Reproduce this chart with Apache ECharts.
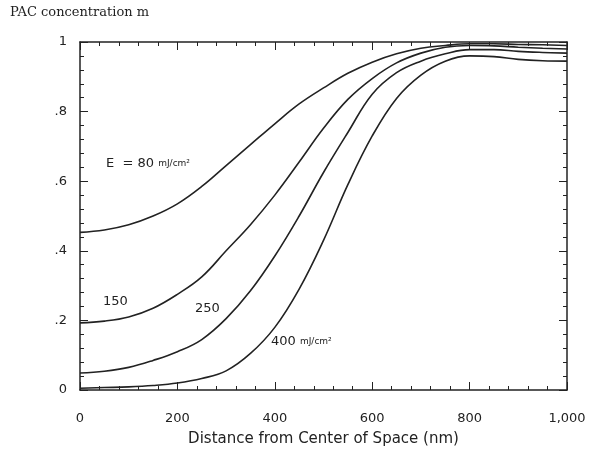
<!DOCTYPE html>
<html>
<head>
<meta charset="utf-8">
<script src="https://cdn.jsdelivr.net/npm/echarts@6/dist/echarts.min.js"></script>
<style>
  html, body { margin: 0; padding: 0; background: #fff; }
  #chart { width: 592px; height: 454px; }
</style>
</head>
<body>
<div id="chart"></div>
<script>
  // distance from center of space (nm)
  var distance = [0, 50, 100, 150, 200, 250, 300, 350, 400, 450, 500,
    550, 600, 650, 700, 750, 800, 850, 900, 950, 1000];
  // PAC concentration m for each exposure dose
  var e80 = [0.453, 0.46, 0.475, 0.5, 0.535, 0.585, 0.645, 0.705, 0.765, 0.822, 0.868,
    0.91, 0.942, 0.966, 0.982, 0.99, 0.995, 0.995, 0.993, 0.992, 0.99];
  var e150 = [0.193, 0.198, 0.21, 0.235, 0.275, 0.325, 0.4, 0.475, 0.56, 0.655, 0.752,
    0.835, 0.895, 0.94, 0.968, 0.985, 0.99, 0.989, 0.985, 0.982, 0.98];
  var e250 = [0.049, 0.054, 0.065, 0.085, 0.11, 0.145, 0.205, 0.285, 0.385, 0.5, 0.625,
    0.74, 0.85, 0.912, 0.945, 0.966, 0.978, 0.978, 0.973, 0.97, 0.968];
  var e400 = [0.005, 0.007, 0.009, 0.013, 0.02, 0.033, 0.055, 0.105, 0.18, 0.29, 0.43,
    0.59, 0.73, 0.838, 0.905, 0.945, 0.96, 0.958, 0.95, 0.946, 0.945];

  function pairs(ys) {
    var out = [];
    for (var i = 0; i < distance.length; i++) {
      out.push([distance[i], ys[i]]);
    }
    return out;
  }

  var ink = '#222';
  var labelFont = 'DejaVu Sans';

  function curve(name, ys) {
    return {
      name: name,
      type: 'line',
      data: pairs(ys),
      smooth: 0.4,
      symbol: 'none',
      lineStyle: { color: ink, width: 1.6 },
      xAxisIndex: 0,
      yAxisIndex: 0
    };
  }

  var frameAxis = {
    axisLine: { show: true, onZero: false, lineStyle: { color: ink, width: 1.5 } },
    axisTick: { show: true, inside: true, length: 8, lineStyle: { color: ink, width: 1 } },
    minorTick: { show: true, splitNumber: 5, length: 4, lineStyle: { color: ink, width: 1 } },
    splitLine: { show: false }
  };

  var chart = echarts.init(document.getElementById('chart'));
  chart.setOption({
    backgroundColor: '#fff',
    animation: false,
    grid: { left: 80, right: 25, top: 42, bottom: 64 },
    xAxis: [
      Object.assign({
        type: 'value', min: 0, max: 1000, interval: 200, position: 'bottom',
        name: 'Distance from Center of Space (nm)',
        nameLocation: 'middle', nameGap: 42,
        nameTextStyle: { color: ink, fontFamily: labelFont, fontSize: 15 },
        axisLabel: {
          color: ink, fontFamily: labelFont, fontSize: 13, margin: 22,
          formatter: function (v) { return v >= 1000 ? '1,000' : String(v); }
        }
      }, frameAxis),
      Object.assign({
        type: 'value', min: 0, max: 1000, interval: 200, position: 'top',
        axisLabel: { show: false }
      }, frameAxis)
    ],
    yAxis: [
      Object.assign({
        type: 'value', min: 0, max: 1, interval: 0.2, position: 'left',
        axisLabel: {
          color: ink, fontFamily: labelFont, fontSize: 13, margin: 13,
          formatter: function (v) {
            if (v === 0) return '0';
            if (v >= 1) return '1';
            return '.' + Math.round(v * 10);
          }
        }
      }, frameAxis),
      Object.assign({
        type: 'value', min: 0, max: 1, interval: 0.2, position: 'right',
        axisLabel: { show: false }
      }, frameAxis)
    ],
    graphic: [
      {
        type: 'text', left: 10, top: 6,
        style: { text: 'PAC concentration m', fill: ink, font: '13px "DejaVu Serif"' }
      },
      {
        type: 'text', left: 106, top: 157,
        style: {
          text: '{a|E  = 80 }{b|mJ/cm²}',
          rich: {
            a: { fill: ink, fontFamily: labelFont, fontSize: 13 },
            b: { fill: ink, fontFamily: labelFont, fontSize: 9 }
          }
        }
      },
      {
        type: 'text', left: 103, top: 295,
        style: { text: '150', fill: ink, font: '13px "DejaVu Sans"' }
      },
      {
        type: 'text', left: 195, top: 302,
        style: { text: '250', fill: ink, font: '13px "DejaVu Sans"' }
      },
      {
        type: 'text', left: 271, top: 335,
        style: {
          text: '{a|400 }{b|mJ/cm²}',
          rich: {
            a: { fill: ink, fontFamily: labelFont, fontSize: 13 },
            b: { fill: ink, fontFamily: labelFont, fontSize: 9 }
          }
        }
      }
    ],
    series: [
      curve('80', e80),
      curve('150', e150),
      curve('250', e250),
      curve('400', e400)
    ]
  });
</script>
</body>
</html>
